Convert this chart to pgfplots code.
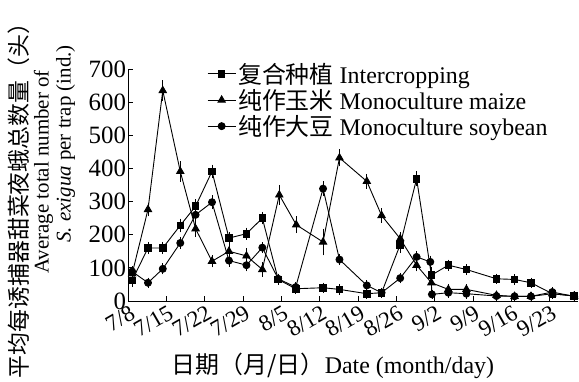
\documentclass[border=0pt]{standalone}
\usepackage{fontspec}
\setmainfont{Liberation Serif}
\newfontfamily\cjk{Noto Sans CJK SC}
\usepackage{pgfplots}
\usepackage{pgfplotstable}
\pgfplotsset{compat=1.18}

\pgfplotstableread{
x y e
0.7 62 8
3.6 160 8
6.3 160 8
9.5 228 10
12.3 286 10
15.3 391 10
18.4 190 8
21.6 203 8
24.5 250 8
27.4 65 6
30.6 37 6
35.6 40 5
38.6 35 5
43.6 22 4
46.3 25 4
49.7 170 15
52.7 369 12
55.4 78 15
58.5 108 6
61.8 95 6
67.3 67 5
70.6 65 5
73.6 55 5
77.5 22 4
81.5 15 4
}\intercrop

\pgfplotstableread{
x y e
0.7 82 8
3.6 276 10
6.3 635 20
9.5 391 20
12.3 218 15
15.3 120 8
18.4 150 10
21.6 136 12
24.5 95 12
27.6 320 20
30.7 230 15
35.6 178 30
38.6 432 15
43.6 361 12
46.3 258 12
49.7 188 10
52.7 108 8
55.4 55 15
58.5 35 6
61.8 35 5
67.3 17 4
70.6 14 4
73.6 14 4
77.5 22 4
81.5 15 4
}\maize

\pgfplotstableread{
x y e
0.7 89 6
3.6 55 5
6.3 97 6
9.5 175 8
12.3 260 8
15.3 298 10
18.4 122 8
21.6 108 8
24.5 161 6
27.4 67 5
30.6 42 5
35.6 339 12
38.6 125 6
43.6 47 5
46.3 25 4
49.7 69 5
52.7 133 6
55.2 118 8
55.5 20 4
58.5 25 4
61.8 22 4
67.3 15 3
70.6 14 3
73.6 14 3
77.5 27 4
81.5 14 3
}\soy

\begin{document}
\begin{tikzpicture}
\begin{axis}[
  scale only axis,
  width=449.7bp, height=232bp,
  xmin=0, xmax=82.2, ymin=0, ymax=700,
  axis x line*=bottom, axis y line*=left,
  axis line style={line width=0.9bp},
  tick align=inside,
  major tick length=5bp,
  tick style={line width=0.9bp, black},
  xtick={0,7,14,21,28,35,42,49,56,63,70,77},
  xticklabels={7/8,7/15,7/22,7/29,8/5,8/12,8/19,8/26,9/2,9/9,9/16,9/23},
  ytick={0,100,...,700},
  /pgf/number format/assume math mode=true,
  yticklabel style={font=\fontsize{25}{28}\selectfont, inner sep=1bp, xshift=-1bp},
  xticklabel style={font=\fontsize{23}{26}\selectfont, rotate=30, anchor=north east, inner sep=1bp, yshift=-2bp},
  legend style={at={(0.175,1.035)}, anchor=north west, draw=none, fill=none,
    inner sep=0pt, row sep=0.5bp, font=\fontsize{24}{27}\selectfont,
    /tikz/every even column/.append style={column sep=2bp}},
  legend cell align=left,
  legend image code/.code={\draw[mark repeat=2,mark phase=2] plot coordinates {(0bp,0bp) (14bp,0bp) (28bp,0bp)};},
  every axis plot/.append style={line width=0.9bp, black},
  error bars/error bar style={line width=0.8bp, black},
  error bars/error mark options={line width=0.8bp, mark size=3.5bp, black},
]
\addplot[mark=square*, mark size=3.3bp, mark options={solid},
  error bars/.cd, y dir=both, y explicit]
  table[x=x, y=y, y error=e] {\intercrop};
\addlegendentry{{\cjk 复合种植} Intercropping}
\addplot[mark=triangle*, mark size=4.2bp, mark options={solid},
  error bars/.cd, y dir=both, y explicit]
  table[x=x, y=y, y error=e] {\maize};
\addlegendentry{{\cjk 纯作玉米} Monoculture maize}
\addplot[mark=*, mark size=3.5bp, mark options={solid},
  error bars/.cd, y dir=both, y explicit]
  table[x=x, y=y, y error=e] {\soy};
\addlegendentry{{\cjk 纯作大豆} Monoculture soybean}
\end{axis}
\node[rotate=90, font=\fontsize{23}{26}\selectfont\cjk] at (-109.3bp,106bp) {平均每诱捕器甜菜夜蛾总数量（头）};
\node[rotate=90, font=\fontsize{21}{24}\selectfont\rmfamily] at (-84.8bp,129bp) {Average total number of};
\node[rotate=90, font=\fontsize{21}{24}\selectfont\rmfamily] at (-62.8bp,157bp) {\textit{S. exigua} per trap (ind.)};
\node[font=\fontsize{24}{27}\selectfont] at (204.7bp,-65bp) {{\cjk 日期（月/日）}Date (month/day)};
\pgfresetboundingbox
\path[use as bounding box] (-128.3bp,-81bp) rectangle (450.7bp,301bp);
\end{tikzpicture}
\end{document}
